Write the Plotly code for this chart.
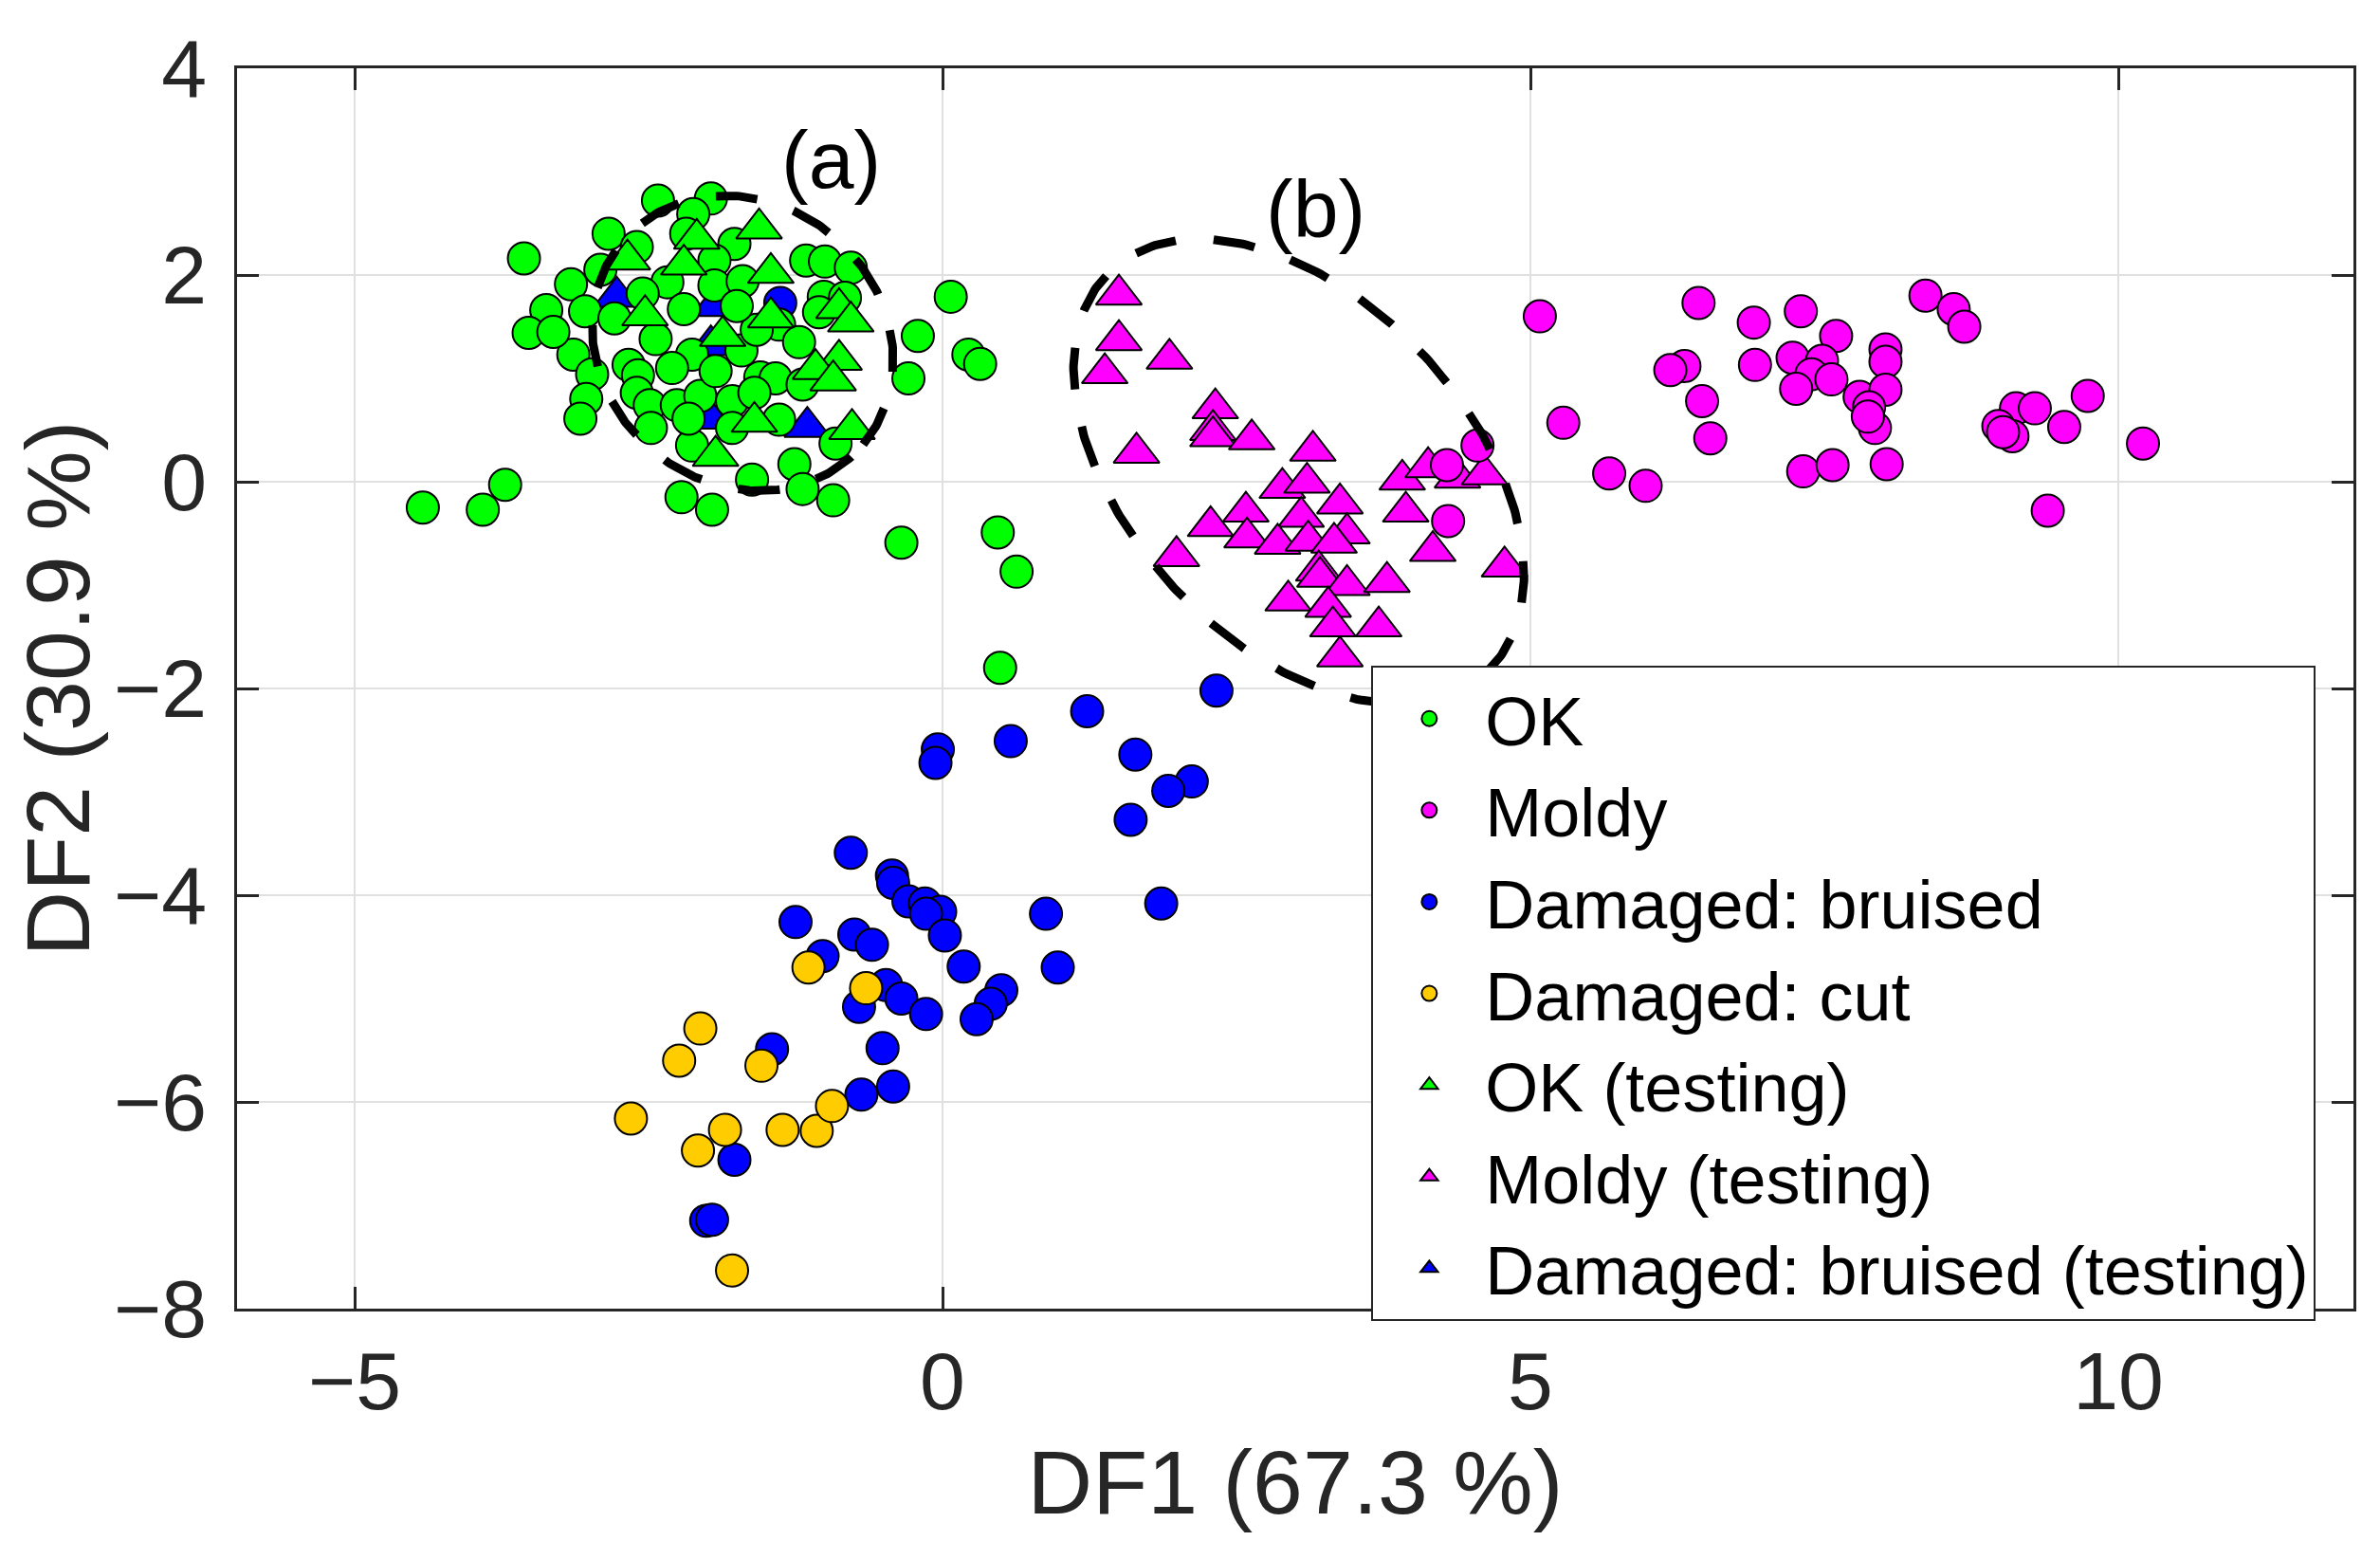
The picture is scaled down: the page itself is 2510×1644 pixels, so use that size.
import numpy as np
import plotly.graph_objects as go

# ---- data (DF1, DF2) ----
ok_x = [-2.42, -1.97, -2.12, -2.84, -2.60, -2.18, -1.77, -1.94, -1.16, -1.00, -0.78, 0.07,
        -3.16, -2.91, -2.34, -2.55, -1.94, -1.70, -2.20, -1.01, -0.83, -1.05, -3.04, -2.79,
        -1.39, -2.44, -2.13, -1.71, -1.22, -0.21, -3.14, -2.98, -2.67, -2.59, -1.55, -1.42,
        -1.19, -0.29, -3.03, -3.08, -2.60, -2.49, -2.26, -2.06, -1.79, -2.48, -1.39, -1.79,
        -2.13, -0.91, -1.26, -1.62, -1.19, -1.58, -2.30, -1.93, -2.16, -1.60, -1.75,
        -0.93, -2.22, -1.96, -3.56, -3.37, -3.52, -3.31, -4.42, -3.91, -3.72, 0.22, 0.32,
        -0.35, 0.47, 0.63, 0.49]
ok_y = [2.72, 2.74, 2.59, 2.40, 2.27, 2.40, 2.30, 2.14, 2.14, 2.13, 2.07, 1.79,
        1.91, 2.05, 1.93, 1.82, 1.90, 1.94, 1.67, 1.79, 1.78, 1.64, 1.65, 1.58,
        1.52, 1.38, 1.23, 1.27, 1.35, 1.41, 1.23, 1.04, 1.13, 1.03, 1.01, 1.00,
        0.94, 1.00, 0.80, 0.61, 0.86, 0.74, 0.74, 0.83, 0.78, 0.52, 0.60, 0.52,
        0.35, 0.37, 0.17, 0.02, -0.07, 1.47, 1.10, 1.07, 0.61, 0.86, 1.70,
        -0.18, -0.15, -0.27, 2.16, 1.66, 1.44, 1.45, -0.25, -0.27, -0.03, 1.23, 1.14,
        -0.59, -0.49, -0.87, -1.80]

moldy_x = [5.08, 6.43, 6.90, 7.30, 7.60, 8.36, 8.60, 8.69, 8.02, 8.02, 6.31, 6.19, 6.91, 7.23,
           7.48, 7.39, 7.56, 7.26, 7.80, 8.02, 7.88, 7.93, 7.87, 6.46, 6.53, 5.28, 5.67, 5.98,
           7.32, 7.57, 8.03, 9.13, 9.29, 8.98, 9.10, 9.02, 9.54, 9.74, 10.21, 9.40,
           4.55, 4.29, 4.30]
moldy_y = [1.60, 1.73, 1.54, 1.65, 1.41, 1.80, 1.67, 1.50, 1.28, 1.16, 1.12, 1.08, 1.13, 1.20,
           1.17, 1.04, 0.99, 0.90, 0.82, 0.89, 0.72, 0.52, 0.63, 0.78, 0.42, 0.57, 0.08, -0.04,
           0.10, 0.16, 0.17, 0.71, 0.71, 0.54, 0.44, 0.48, 0.53, 0.83, 0.37, -0.28,
           0.35, 0.16, -0.38]

bruised_x = [2.33, 1.23, 0.58, -0.04, -0.06, 1.64, 2.12, 1.92, 1.60, 1.86, -0.78, -0.43, -0.42,
             -0.29, -0.15, -0.02, -0.14, 0.02, -1.25, -0.75, -0.60, -1.02, -0.48, -0.71, -0.35,
             -0.14, 0.18, 0.50, 0.41, 0.29, 0.88, 0.98, -1.45, -0.51, -0.69, -0.42, -1.77,
             -2.01, -1.96, -1.38]
bruised_y = [-2.02, -2.22, -2.51, -2.59, -2.72, -2.64, -2.90, -2.99, -3.27, -4.08, -3.59, -3.81,
             -3.88, -4.06, -4.08, -4.16, -4.18, -4.39, -4.26, -4.38, -4.48, -4.59, -4.87, -5.08,
             -5.00, -5.15, -4.69, -4.92, -5.05, -5.20, -4.18, -4.70, -5.49, -5.48, -5.93, -5.85,
             -6.56, -7.15, -7.14, 1.73]

cut_x = [-1.14, -0.65, -2.06, -2.24, -1.54, -2.65, -1.85, -2.08, -1.36, -1.07, -0.94, -1.79]
cut_y = [-4.70, -4.90, -5.29, -5.60, -5.65, -6.16, -6.27, -6.47, -6.27, -6.28, -6.04, -7.63]

ok_test_x = [-1.56, -2.09, -2.68, -2.20, -1.46, -2.53, -1.87, -1.46, -0.88, -0.78, -0.88, -1.08,
             -0.93, -1.60, -0.77, -1.93]
ok_test_y = [2.45, 2.35, 2.15, 2.10, 2.02, 1.61, 1.41, 1.59, 1.68, 1.55, 1.18, 1.09,
             0.98, 0.58, 0.51, 0.25]

moldy_test_x = [1.50, 1.50, 1.38, 1.93, 2.32, 2.30, 2.30, 2.63, 1.65, 3.15, 2.89, 3.10, 3.38,
                3.05, 3.91, 4.13, 4.38, 4.61, 3.94, 2.58, 2.28, 2.59, 2.85, 3.11, 3.44, 3.33,
                1.99, 3.20, 3.21, 4.17, 4.78, 3.44, 3.78, 2.94, 3.28, 3.32, 3.71, 3.38]
moldy_test_y = [1.81, 1.37, 1.05, 1.19, 0.71, 0.50, 0.44, 0.41, 0.28, 0.30, -0.06, -0.01, -0.21,
                -0.34, 0.02, 0.14, 0.04, 0.07, -0.29, -0.29, -0.43, -0.54, -0.60, -0.57, -0.50,
                -0.59, -0.72, -0.86, -0.92, -0.67, -0.82, -1.00, -0.97, -1.15, -1.21, -1.40,
                -1.40, -1.69]

bruised_test_x = [-2.77, -1.94, -1.97, -1.98, -1.15]
bruised_test_y = [1.79, 1.70, 1.32, 0.61, 0.53]

# dashed ellipses: centre (data), semi-axes (px), rotation (deg)
ell_a = (-1.70, 1.34, 166, 148, -40)
ell_b = (3.03, 0.10, 290, 180, -47)
labels = ["(a)", "(b)"]
label_x = [-0.95, 3.17]
label_y = [3.12, 2.64]

W, H = 2510, 1644
MARG = dict(l=242, r=36, t=64, b=272)
XR = [-6, 12]
YR = [-8, 4]
FONT = "Liberation Sans, Arial, sans-serif"
AX = "#262626"


def ellipse(cx, cy, a, b, ang, n=400):
    sx = (W - MARG["l"] - MARG["r"]) / (XR[1] - XR[0])
    sy = (H - MARG["t"] - MARG["b"]) / (YR[1] - YR[0])
    t = np.linspace(0, 2 * np.pi, n)
    th = np.radians(ang)
    u = a * np.cos(t) * np.cos(th) - b * np.sin(t) * np.sin(th)
    v = a * np.cos(t) * np.sin(th) + b * np.sin(t) * np.cos(th)
    return cx + u / sx, cy + v / sy


def pts(x, y, name, color, symbol, rank, size):
    return go.Scatter(x=x, y=y, mode="markers", name=name, legendrank=rank,
                      marker=dict(color=color, symbol=symbol, size=size,
                                  line=dict(color="black", width=2)))


fig = go.Figure()
# drawing order chosen to mimic overlaps in the original
fig.add_trace(pts(bruised_x, bruised_y, "Damaged: bruised", "#0000FF", "circle", 3, 34))
fig.add_trace(pts(bruised_test_x, bruised_test_y, "Damaged: bruised (testing)", "#0000FF", "triangle-up", 7, 42))
fig.add_trace(pts(ok_x, ok_y, "OK", "#00FF00", "circle", 1, 34))
fig.add_trace(pts(ok_test_x, ok_test_y, "OK (testing)", "#00FF00", "triangle-up", 5, 42))
fig.add_trace(pts(cut_x, cut_y, "Damaged: cut", "#FFCC00", "circle", 4, 34))
fig.add_trace(pts(moldy_test_x, moldy_test_y, "Moldy (testing)", "#FF00FF", "triangle-up", 6, 42))
fig.add_trace(pts(moldy_x, moldy_y, "Moldy", "#FF00FF", "circle", 2, 34))

for e in (ell_a, ell_b):
    ex, ey = ellipse(*e)
    fig.add_trace(go.Scatter(x=ex, y=ey, mode="lines", showlegend=False, hoverinfo="skip",
                             line=dict(color="black", width=9, dash="44px,40px")))

for txt, lx, ly in zip(labels, label_x, label_y):
    fig.add_annotation(x=lx, y=ly, xref="x", yref="y", text=txt, showarrow=False,
                       font=dict(family=FONT, size=86, color="black"))

axis_common = dict(showline=True, linecolor=AX, linewidth=2.5, mirror="ticks",
                   ticks="inside", ticklen=23, tickwidth=2.5, tickcolor=AX,
                   showgrid=True, gridcolor="#e0e0e0", gridwidth=2, zeroline=False,
                   tickfont=dict(family=FONT, size=86, color=AX))

fig.update_layout(
    width=W, height=H, margin=MARG,
    paper_bgcolor="white", plot_bgcolor="white",
    font=dict(family=FONT, color=AX),
    xaxis=dict(range=XR, tickvals=[-5, 0, 5, 10], ticklabelstandoff=0,
               title=dict(text="DF1 (67.3 %)", font=dict(family=FONT, size=95, color=AX), standoff=27),
               **axis_common),
    yaxis=dict(range=YR, dtick=2, tick0=0, ticklabelstandoff=12,
               title=dict(text="DF2 (30.9 %)", font=dict(family=FONT, size=95, color=AX), standoff=3),
               **axis_common),
    legend=dict(x=0.536, y=0.518, xanchor="left", yanchor="top",
                bgcolor="white", bordercolor=AX, borderwidth=2, itemwidth=108,
                font=dict(family=FONT, size=72, color="black"), tracegroupgap=0),
    showlegend=True,
)

fig.write_html("out.html")
